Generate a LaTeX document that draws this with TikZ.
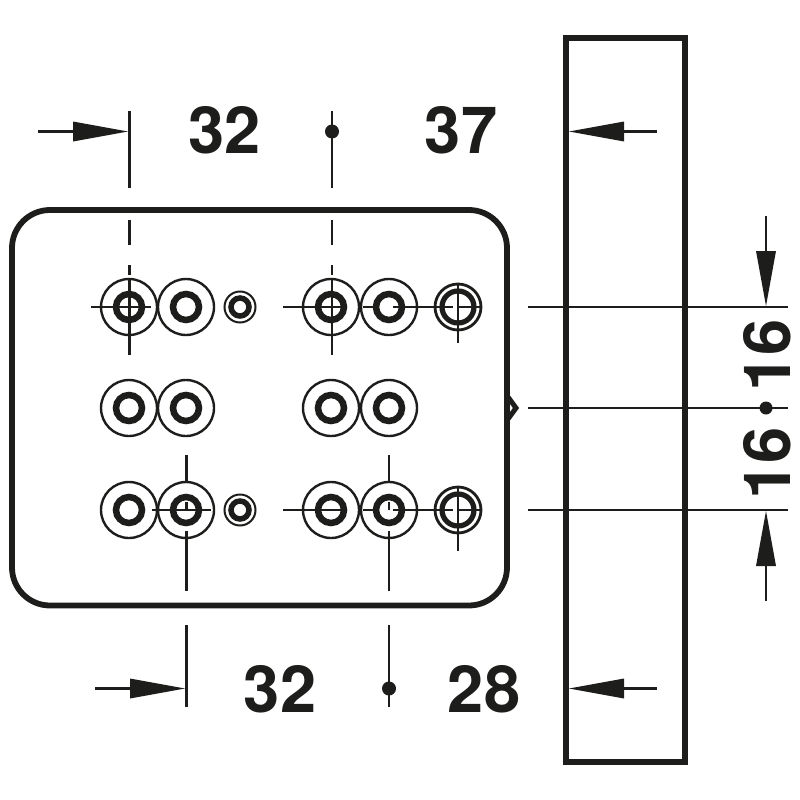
\documentclass[tikz,border=0pt]{standalone}
\usepackage{fontspec}
\setmainfont{TeX Gyre Heros}
\definecolor{ink}{HTML}{1D1D1B}
\tikzset{
  thick line/.style={draw=ink,line width=5.8pt},
  thin line/.style={draw=ink,line width=2.3pt},
  big outer/.style={draw=ink,line width=2.4pt},
  big inner/.style={draw=ink,line width=6.5pt},
  small outer/.style={draw=ink,line width=2pt},
  small inner/.style={draw=ink,line width=5.5pt},
  ring outer/.style={draw=ink,line width=2.8pt},
  ring inner/.style={draw=ink,line width=5.2pt},
  dim text/.style={inner sep=0pt,font=\fontsize{65}{65}\selectfont\bfseries,text=ink,anchor=center},
  head/.style={fill=ink},
  dot/.style={fill=ink}
}
\newcommand{\bighole}[2]{%
  \draw[big outer] (#1,#2) circle (28);
  \draw[big inner] (#1,#2) circle (13);}
\newcommand{\smallhole}[2]{%
  \draw[small outer] (#1,#2) circle (15.5);
  \draw[small inner] (#1,#2) circle (9);}
\newcommand{\ringhole}[2]{%
  \draw[ring outer] (#1,#2) circle (23);
  \draw[ring inner] (#1,#2) circle (16);}
\begin{document}
\begin{tikzpicture}[x=1pt,y=-1pt]
\useasboundingbox (0,0) rectangle (800,800);
% board and bar
\draw[thick line,rounded corners=38pt] (12,210) rectangle (507,605.5);
\draw[thick line] (566,38) rectangle (685,762);
\draw[draw=ink,line width=5pt,miter limit=3] (508,397) -- (516,408) -- (508,419);
% holes
\foreach \r in {307,408,510}{
  \bighole{129}{\r}\bighole{186}{\r}\bighole{331}{\r}\bighole{389}{\r}}
\smallhole{240}{307}\smallhole{240}{510}
\ringhole{458}{307}\ringhole{458}{510}
% top-left crosshair and dimension line
\draw[thin line] (129.5,111) -- (129.5,188);
\draw[thin line] (129.5,220) -- (129.5,245);
\draw[thin line] (129.5,265) -- (129.5,275);
\draw[thin line] (129.5,279) -- (129.5,355);
\draw[thin line] (91,307) -- (151,307);
\draw[thin line] (332,111) -- (332,188);
\draw[thin line] (332,220) -- (332,245);
\draw[thin line] (332,265) -- (332,275);
\draw[thin line] (332,279) -- (332,355);
\draw[thin line] (283,307) -- (345,307);
% row 1 right
\draw[thin line] (363,307) -- (378,307);
\draw[thin line] (393,307) -- (453,307);
\draw[thin line] (458,307) -- (480,307);
\draw[thin line] (458,283) -- (458,343);
% row 3 left
\draw[thin line] (152,510) -- (211,510);
\draw[thin line] (186.5,455) -- (186.5,482);
\draw[thin line] (186.5,502) -- (186.5,510);
\draw[thin line] (186.5,531) -- (186.5,591);
\draw[thin line] (186.5,625) -- (186.5,707);
% row 3 right
\draw[thin line] (283,510) -- (343,510);
\draw[thin line] (363,510) -- (378,510);
\draw[thin line] (393,510) -- (453,510);
\draw[thin line] (458,510) -- (480,510);
\draw[thin line] (389,455) -- (389,482);
\draw[thin line] (389,502) -- (389,510);
\draw[thin line] (389,531) -- (389,591);
\draw[thin line] (389,625) -- (389,707);
\draw[thin line] (458,487) -- (458,551);
% long horizontals
\draw[thin line] (528,307) -- (788,307);
\draw[thin line] (528,408) -- (788,408);
\draw[thin line] (528,510) -- (788,510);
% arrows
\draw[thin line] (38,131.5) -- (75,131.5);
\fill[head] (128,131.5) -- (73,121.5) -- (73,141.5) -- cycle;
\draw[thin line] (95,688.5) -- (132,688.5);
\fill[head] (185,688.5) -- (130,678.5) -- (130,698.5) -- cycle;
\draw[thin line] (620,131.5) -- (657,131.5);
\fill[head] (569,131.5) -- (624,121.5) -- (624,141.5) -- cycle;
\draw[thin line] (620,688.5) -- (657,688.5);
\fill[head] (569,688.5) -- (624,678.5) -- (624,698.5) -- cycle;
\draw[thin line] (766,216) -- (766,255);
\fill[head] (766,306) -- (756,251) -- (776,251) -- cycle;
\draw[thin line] (766,562) -- (766,601);
\fill[head] (766,511) -- (756,566) -- (776,566) -- cycle;
% dots
\fill[dot] (332,131.5) circle (7);
\fill[dot] (389,688.5) circle (7);
\fill[dot] (766,408) circle (6.5);
% labels
\node[dim text] (a) at (224.5,130) {32};
\node[dim text] (b) at (461,130) {37};
\node[dim text] (c) at (280,689) {32};
\node[dim text] (d) at (484,689) {28};
\node[dim text,rotate=90] (e) at (767,355) {16};
\node[dim text,rotate=90] (f) at (767,463.5) {16};
\end{tikzpicture}
\end{document}
